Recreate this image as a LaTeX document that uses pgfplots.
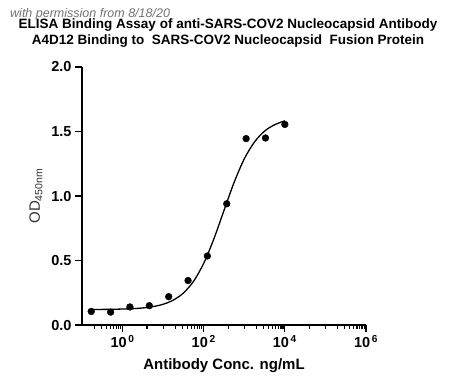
\documentclass[border=0pt]{standalone}
\usepackage{pgfplots}
\pgfplotsset{compat=1.18}
\usepackage{fontspec}
\setmainfont{Liberation Sans}
\begin{document}
\begin{tikzpicture}
\begin{axis}[
  scale only axis, width=284pt, height=258pt,
  xmode=log, log basis x=10,
  xmin=0.1, xmax=1e6, ymin=0, ymax=2,
  axis lines=left, axis line style={-, line width=1.4pt},
  every tick/.style={black, line width=1.2pt},
  tick align=outside,
  major tick length=7pt, minor tick length=4pt,
  xtick={1,100,10000,1000000},
  xticklabels={{10\textsuperscript{\,0}},{10\textsuperscript{\,2}},{10\textsuperscript{\,4}},{10\textsuperscript{\,6}}},
  minor xtick={0.2,0.3,0.4,0.5,0.6,0.7,0.8,0.9,4,10,20,30,40,50,60,70,80,90,400,1000,2000,3000,4000,5000,6000,7000,8000,9000,40000,100000,200000,300000,400000,500000,600000,700000,800000,900000},
  ytick={0,0.5,1,1.5,2},
  yticklabels={0.0,0.5,1.0,1.5,2.0},
  ticklabel style={font=\fontsize{14.5}{16}\selectfont\bfseries},
  /pgf/number format/assume math mode=true,
  xlabel={Antibody Conc. ng/mL},
  xlabel style={font=\fontsize{15}{17}\selectfont\bfseries, yshift=-4pt},
  ylabel={OD\textsubscript{450nm}},
  ylabel style={font=\fontsize{15}{17}\selectfont, color=black!80, yshift=2pt},
  clip=false,
]
\addplot[black, line width=1.3pt, smooth] coordinates {
(0.169,0.1206)(0.562,0.1219)(1.778,0.1268)(3.162,0.1324)(5.623,0.1426)(10,0.1608)
(17.78,0.193)(31.62,0.248)(56.23,0.339)(100,0.478)(177.8,0.667)(316.2,0.888)
(562.3,1.106)(1000,1.288)(1778,1.418)(3162,1.503)(5623,1.553)(10000,1.583)};
\addplot[only marks, mark=*, mark size=3.4pt, black] coordinates {
(0.169,0.105)(0.508,0.100)(1.52,0.140)(4.57,0.150)(13.7,0.220)(41.2,0.345)
(123,0.535)(370,0.940)(1111,1.445)(3333,1.450)(10000,1.555)};
\coordinate (bl) at (rel axis cs:-0.2887,-0.2558);
\coordinate (tr) at (rel axis cs:1.2958,1.2597);
\end{axis}
\pgfresetboundingbox
\path (bl) rectangle (tr);
\path (bl) ++(228pt,0) coordinate (midb);
\node[font=\fontsize{13.5}{15.5}\selectfont\bfseries, align=center, anchor=north, inner sep=0pt] at (midb|-tr) [yshift=-19pt] {ELISA Binding Assay of anti-SARS-COV2 Nucleocapsid Antibody\\A4D12 Binding to\ \ SARS-COV2 Nucleocapsid\ \ Fusion Protein};
\node[font=\fontsize{12.5}{14}\selectfont\itshape, color=black!65, anchor=north west, inner sep=0pt, opacity=0.85] at ([xshift=10pt,yshift=-8pt]bl|-tr) {with permission from 8/18/20};
\end{tikzpicture}
\end{document}
